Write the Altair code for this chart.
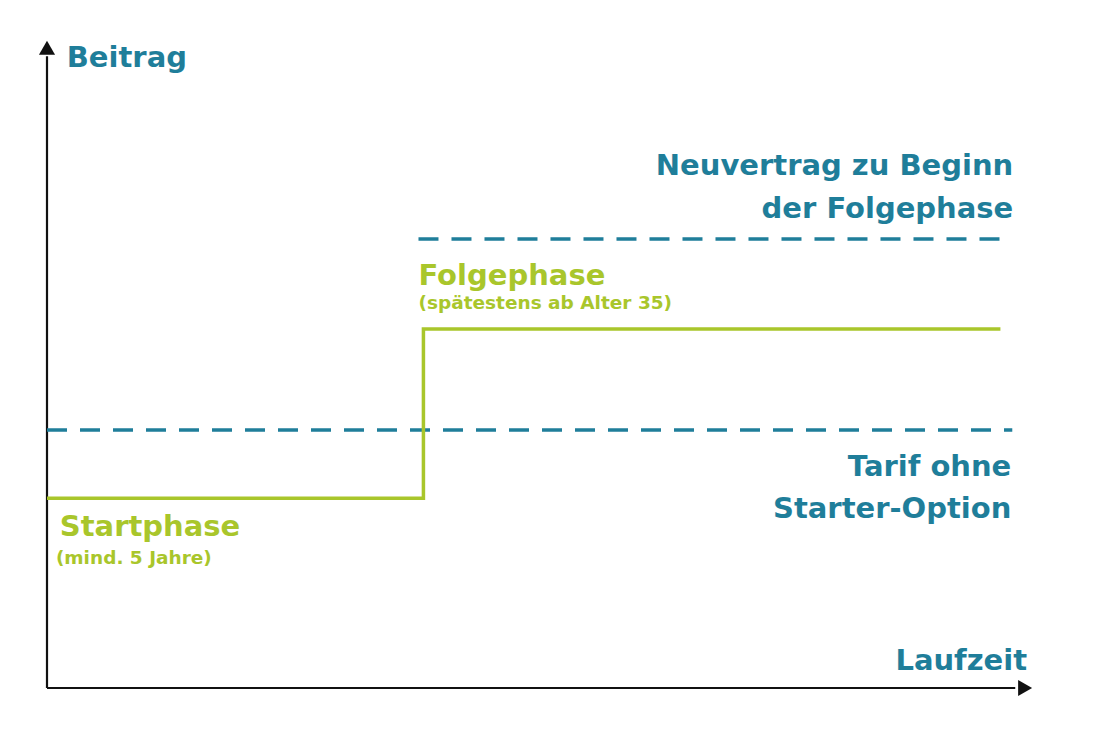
import altair as alt
import pandas as pd

TEAL = "#1f7e9a"
GREEN = "#a9c62b"
AXIS = "#111111"

# Green step line: Startphase level, then Folgephase level (conceptual units 0-100)
step_x = [0, 38.1, 38.1, 96.5]
step_y = [29.3, 29.3, 55.4, 55.4]

# Dashed reference lines
dash_x1 = [0, 37.6]
dash_x2 = [97.7, 97.7]
dash_y = [39.8, 69.3]

# Labels
left_labels = ["Beitrag", "Folgephase", "Startphase"]
left_colors = [TEAL, GREEN, GREEN]
left_x = [2.0, 37.6, 1.3]
left_y = [95.8, 62.2, 23.4]

small_labels = ["(spätestens ab Alter 35)", "(mind. 5 Jahre)"]
small_x = [37.6, 0.9]
small_y = [58.5, 19.2]

right_labels = ["Neuvertrag zu Beginn", "der Folgephase", "Tarif ohne", "Starter-Option", "Laufzeit"]
right_x = [97.8, 97.8, 97.6, 97.6, 99.2]
right_y = [79.2, 72.5, 32.7, 26.2, 2.8]

X = alt.Scale(domain=[0, 100], nice=False, zero=False)
Y = alt.Scale(domain=[0, 100], nice=False, zero=False)

def xe(f):
    return alt.X(f, type="quantitative", scale=X, axis=None)

def ye(f):
    return alt.Y(f, type="quantitative", scale=Y, axis=None)

# Axes as arrows
axes_df = pd.DataFrame({"x": [0, 0], "x2": [0, 98.0], "y": [0, 0], "y2": [97.5, 0]})
axes = alt.Chart(axes_df).mark_rule(color=AXIS, strokeWidth=2.2).encode(
    x=xe("x"), x2="x2", y=ye("y"), y2="y2")

head_up = alt.Chart(pd.DataFrame({"x": [0], "y": [98.8]})).mark_point(
    shape="triangle-up", filled=True, color=AXIS, size=260, opacity=1).encode(x=xe("x"), y=ye("y"))
head_right = alt.Chart(pd.DataFrame({"x": [99.0], "y": [0]})).mark_point(
    shape="triangle-right", filled=True, color=AXIS, size=260, opacity=1).encode(x=xe("x"), y=ye("y"))

step_df = pd.DataFrame({"x": step_x, "y": step_y, "o": list(range(len(step_x)))})
step = alt.Chart(step_df).mark_line(color=GREEN, strokeWidth=3.5).encode(
    x=xe("x"), y=ye("y"), order="o:Q")

dash_df = pd.DataFrame({"x": dash_x1, "x2": dash_x2, "y": dash_y})
dashes = alt.Chart(dash_df).mark_rule(color=TEAL, strokeWidth=3.5, strokeDash=[20, 13]).encode(
    x=xe("x"), x2="x2", y=ye("y"))

left_df = pd.DataFrame({"t": left_labels, "c": left_colors, "x": left_x, "y": left_y})
left_txt = alt.Chart(left_df).mark_text(
    align="left", baseline="alphabetic", font="DejaVu Sans", fontWeight="bold", fontSize=29
).encode(x=xe("x"), y=ye("y"), text="t:N", color=alt.Color("c:N", scale=None))

small_df = pd.DataFrame({"t": small_labels, "x": small_x, "y": small_y})
small_txt = alt.Chart(small_df).mark_text(
    align="left", baseline="alphabetic", font="DejaVu Sans", fontWeight="bold", fontSize=18.5, color=GREEN
).encode(x=xe("x"), y=ye("y"), text="t:N")

right_df = pd.DataFrame({"t": right_labels, "x": right_x, "y": right_y})
right_txt = alt.Chart(right_df).mark_text(
    align="right", baseline="alphabetic", font="DejaVu Sans", fontWeight="bold", fontSize=29, color=TEAL
).encode(x=xe("x"), y=ye("y"), text="t:N")

chart = alt.layer(axes, head_up, head_right, dashes, step, left_txt, small_txt, right_txt).properties(
    width=988, height=648,
    autosize=alt.AutoSizeParams(type="none"),
    padding={"left": 39, "top": 32, "right": 40, "bottom": 40},
    background="white",
).configure_view(stroke=None)

chart.save("out.html", embed_options={"renderer": "svg", "actions": False})
